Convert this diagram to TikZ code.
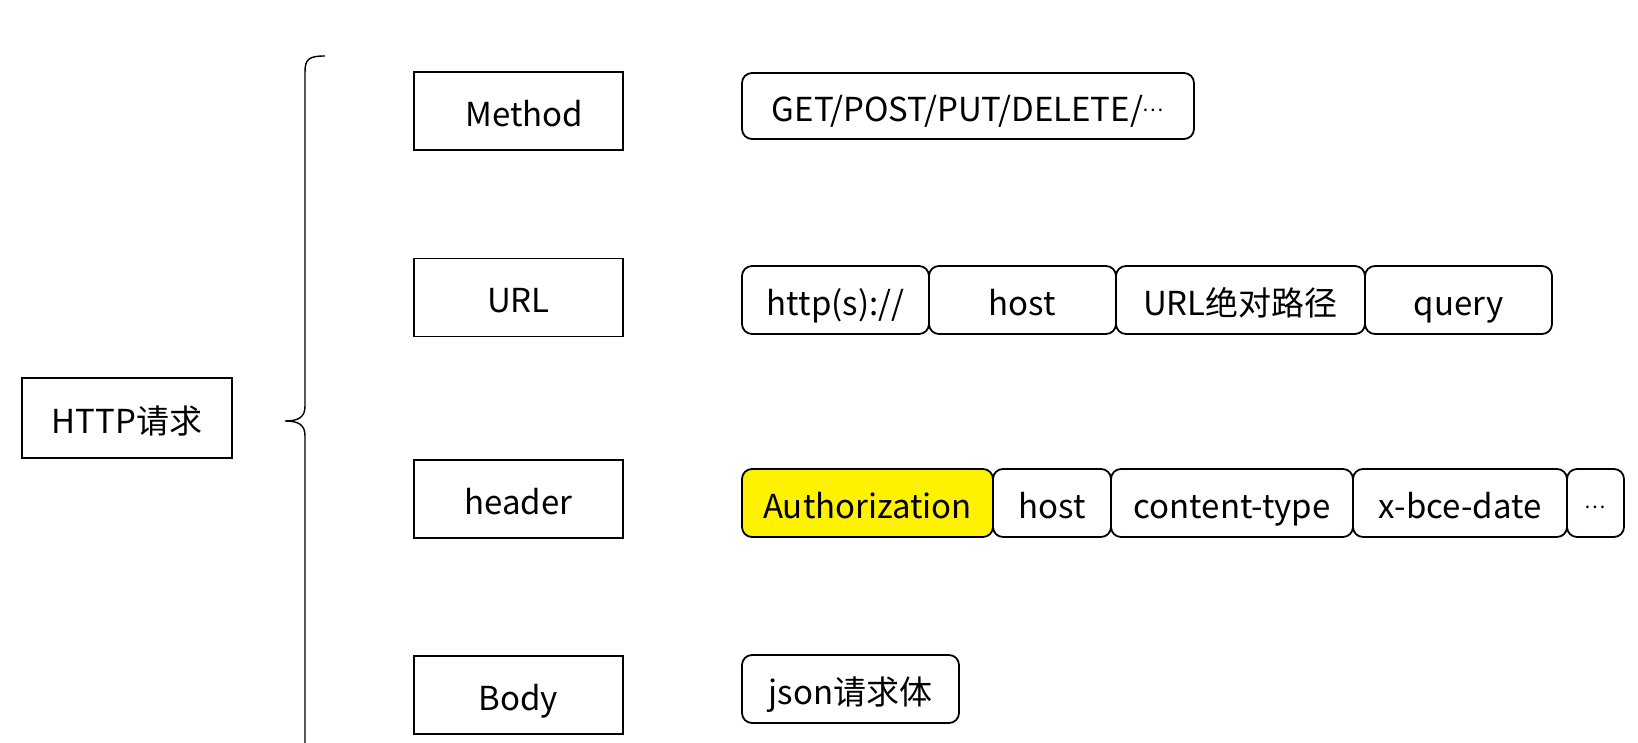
\documentclass[tikz,border=0pt]{standalone}
\usepackage{fontspec}
\setmainfont{Noto Sans CJK SC}
\newcommand{\middots}{\raisebox{10pt}{\fontsize{20}{20}\selectfont …}}
\begin{document}
\begin{tikzpicture}[x=1pt,y=-1pt,
  txt/.style={inner sep=0pt, outer sep=0pt, font=\fontsize{33}{40}\selectfont, text height=30pt, text depth=0pt},
  sqbox/.style={txt, draw, line width=1.8pt},
  rbox/.style={txt, draw, line width=1.8pt, rounded corners=10pt},
  brace/.style={draw, line width=1.4pt}]
\fill[white] (0,0) rectangle (1638,742);
\useasboundingbox (0,0) rectangle (1638,742);
% left
\node[sqbox, minimum width=210pt, minimum height=80pt] (http) at (127,418) {HTTP请求};
% brace
\coordinate (btop) at (325,56);
\coordinate (btip) at (285,421);
\coordinate (bbot) at (305,750);
\draw[brace] (btop) .. controls (309,56) and (305,59) .. (305,72) -- (305,406)
  .. controls (305,417) and (299,421) .. (btip)
  .. controls (299,421) and (305,425) .. (305,436) -- (bbot);
% middle
\node[sqbox, minimum width=209pt, minimum height=78pt] (method) at (518.5,111) {\hspace*{12pt}Method};
\node[sqbox, minimum width=209pt, minimum height=78pt] (url) at (518.5,297.5) {URL};
\node[sqbox, minimum width=209pt, minimum height=78pt] (header) at (518.5,499) {header};
\node[sqbox, minimum width=209pt, minimum height=78pt] (body) at (518.5,695) {Body};
% values
\node[rbox, minimum width=452pt, minimum height=66pt] (get) at (968,106) {GET/POST/PUT/DELETE/\middots};
\node[rbox, minimum width=187pt, minimum height=68pt] (proto) at (835.5,300) {http(s)://};
\node[rbox, minimum width=187pt, minimum height=68pt] (uhost) at (1022.5,300) {host};
\node[rbox, minimum width=249pt, minimum height=68pt] (path) at (1240.5,300) {URL绝对路径};
\node[rbox, minimum width=187pt, minimum height=68pt] (query) at (1458.5,300) {query};
\node[rbox, fill=yellow, minimum width=251pt, minimum height=68pt] (auth) at (867.5,503) {Authorization};
\node[rbox, minimum width=118pt, minimum height=68pt] (hhost) at (1052,503) {host};
\node[rbox, minimum width=242pt, minimum height=68pt] (ctype) at (1232,503) {content-type};
\node[rbox, minimum width=214pt, minimum height=68pt] (date) at (1460,503) {x-bce-date};
\node[rbox, minimum width=57pt, minimum height=68pt] (more) at (1595.5,503) {\middots};
\node[rbox, minimum width=217pt, minimum height=68pt] (json) at (850.5,689) {json请求体};
\end{tikzpicture}
\end{document}
